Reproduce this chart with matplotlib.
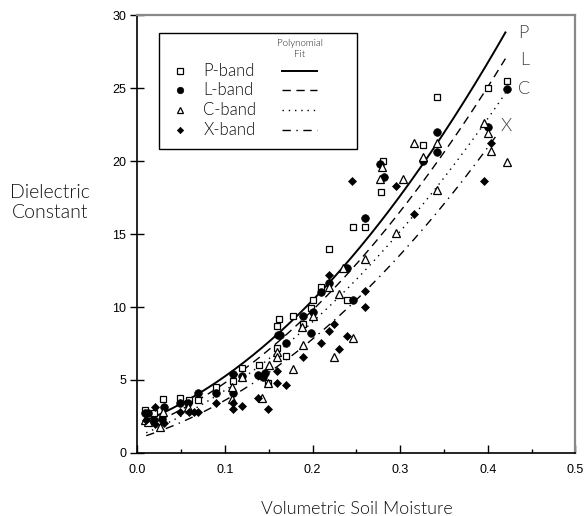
import numpy as np
import matplotlib
matplotlib.use("Agg")
from matplotlib import pyplot as plt
from matplotlib.patches import Rectangle

# puntos medidos (humedad volumetrica, constante dielectrica)
p_x = [0.009, 0.019, 0.029, 0.0485, 0.059, 0.069, 0.09, 0.109, 0.119, 0.139, 0.149, 0.159, 0.159, 0.162,
       0.169, 0.177, 0.189, 0.198, 0.200, 0.209, 0.219, 0.239, 0.246, 0.26, 0.278, 0.28, 0.326, 0.342, 0.40, 0.422]
p_y = [2.95, 2.76, 3.68, 3.8, 3.6, 3.6, 4.55, 4.9, 5.85, 6.0, 4.8, 7.2, 8.7, 9.2,
       6.65, 9.35, 8.85, 9.9, 10.5, 11.4, 14.0, 10.5, 15.5, 15.5, 17.85, 20.0, 21.1, 24.4, 25.0, 25.5]

l_x = [0.009, 0.012, 0.019, 0.028, 0.03, 0.049, 0.058, 0.069, 0.09, 0.109, 0.109, 0.119, 0.138, 0.143, 0.146,
       0.16, 0.163, 0.169, 0.189, 0.198, 0.200, 0.209, 0.219, 0.239, 0.246, 0.26, 0.277, 0.281, 0.326, 0.342,
       0.342, 0.40, 0.422]
l_y = [2.72, 2.72, 2.28, 2.3, 3.17, 3.4, 3.4, 4.13, 4.1, 4.1, 5.4, 5.25, 5.35, 5.2, 5.45,
       8.1, 8.1, 7.55, 9.4, 8.2, 9.65, 11.0, 11.65, 12.65, 10.5, 16.1, 19.8, 18.9, 20.0, 22.0,
       20.6, 22.3, 24.9]

c_x = [0.009, 0.012, 0.026, 0.029, 0.058, 0.108, 0.108, 0.119, 0.142, 0.149, 0.15, 0.159, 0.159, 0.177,
       0.188, 0.189, 0.2, 0.219, 0.224, 0.23, 0.235, 0.246, 0.26, 0.279, 0.277, 0.295, 0.303, 0.316, 0.326,
       0.342, 0.342, 0.396, 0.40, 0.4035, 0.4215]
c_y = [2.26, 2.15, 1.76, 2.8, 3.15, 4.55, 3.7, 5.2, 3.75, 4.8, 6.0, 6.9, 6.55, 5.75,
       8.6, 7.4, 9.35, 11.4, 6.55, 10.9, 12.65, 7.9, 13.3, 19.6, 18.8, 15.05, 18.8, 21.25, 20.3,
       21.2, 18.0, 22.6, 21.95, 20.7, 19.9]

x_x = [0.01, 0.02, 0.02, 0.03, 0.049, 0.059, 0.064, 0.069, 0.09, 0.109, 0.109, 0.119, 0.138, 0.149, 0.159,
       0.159, 0.17, 0.189, 0.209, 0.219, 0.219, 0.224, 0.23, 0.239, 0.245, 0.26, 0.26, 0.295, 0.316, 0.396, 0.4035]
x_y = [2.26, 3.17, 2.0, 2.05, 2.83, 2.83, 2.83, 2.83, 3.4, 3.4, 3.0, 3.2, 3.75, 3.0, 4.8,
       5.6, 4.65, 6.6, 7.55, 8.35, 12.2, 8.85, 7.1, 8.0, 18.6, 11.1, 10.0, 18.3, 16.4, 18.6, 21.2]

fit_x = [0.01, 0.1, 0.2, 0.3, 0.42]
fit_p = [2.3, 5.1, 10.6, 17.6, 28.8]
fit_l = [2.0, 4.5, 9.8, 16.8, 26.9]
fit_c = [1.6, 3.9, 9.0, 15.5, 24.5]
fit_xb = [1.3, 3.3, 8.1, 13.5, 22.6]

bandas = ["P-band", "L-band", "C-band", "X-band"]
letras = ["P", "L", "C", "X"]

thin = dict(family=["Lato", "DejaVu Sans"], fontweight=300)

fig = plt.figure(figsize=(5.87, 5.16), dpi=100)
ax = fig.add_axes([0.2342, 0.1221, 0.7462, 0.8488])

estilos = [
    dict(marker="s", mfc="white", mec="black", ms=5, mew=0.9),
    dict(marker="o", mfc="black", mec="black", ms=5.5, mew=0.5),
    dict(marker="^", mfc="white", mec="black", ms=5.5, mew=0.9),
    dict(marker="D", mfc="black", mec="black", ms=3.8, mew=0.5),
]
lineas = [
    dict(ls="-", lw=1.4),
    dict(ls=(0, (6, 4)), lw=1.0),
    dict(ls=(0, (1, 3.5)), lw=1.0),
    dict(ls=(0, (6, 4, 1, 4)), lw=1.0),
]

datos = [(p_x, p_y), (l_x, l_y), (c_x, c_y), (x_x, x_y)]
for (xs, ys), st in zip(datos, estilos):
    ax.plot(xs, ys, ls="none", **st, zorder=3)

# curvas de ajuste polinomico
ends = [0.42, 0.42, 0.42, 0.41]
lbl_pos = [(0.434, 28.8), (0.437, 26.9), (0.434, 24.9), (0.415, 22.4)]
for fy, ls, xe, lp, let in zip([fit_p, fit_l, fit_c, fit_xb], lineas, ends, lbl_pos, letras):
    coef = np.polyfit(fit_x, fy, 2)
    xx = np.linspace(0.01, xe, 200)
    ax.plot(xx, np.polyval(coef, xx), color="black", **ls, zorder=2)
    ax.text(lp[0], lp[1], let, fontsize=13, color="#444444", va="center", ha="left", **thin)

ax.set_xlim(0, 0.5)
ax.set_ylim(0, 30)
ax.set_xticks([0.0, 0.1, 0.2, 0.3, 0.4, 0.5])
ax.set_xticks([0.05, 0.15, 0.25, 0.35, 0.45], minor=True)
ax.set_yticks([0, 5, 10, 15, 20, 25, 30])
ax.tick_params(axis="x", direction="in", length=6, width=1, labelsize=9, pad=8)
ax.tick_params(axis="x", which="minor", direction="in", length=3, width=1)
ax.tick_params(axis="y", direction="inout", length=10, width=1, labelsize=9, pad=3)
for lab in ax.get_xticklabels() + ax.get_yticklabels():
    lab.set_family("Liberation Sans")
for s in ["top", "right"]:
    ax.spines[s].set_color("#888888")
    ax.spines[s].set_linewidth(1.6)
for s in ["left", "bottom"]:
    ax.spines[s].set_linewidth(1.2)

ax.set_xlabel("Volumetric Soil Moisture", fontsize=13, color="#111111", labelpad=18, **thin)
fig.text(0.085, 0.607, "Dielectric\nConstant", fontsize=14, color="#111111", ha="center", va="center",
         linespacing=1.2, **thin)

# leyenda dibujada a mano
ax.add_patch(Rectangle((0.049, 0.694), 0.452, 0.265, transform=ax.transAxes, fill=False,
                       ec="black", lw=1.0, zorder=4))
ax.text(0.371, 0.936, "Polynomial", transform=ax.transAxes, fontsize=7, ha="center", va="center",
        color="#222222", **thin)
ax.text(0.371, 0.909, "Fit", transform=ax.transAxes, fontsize=7, ha="center", va="center",
        color="#222222", **thin)
filas = [0.872, 0.829, 0.783, 0.737]
for yf, st, ls, nom in zip(filas, estilos, lineas, bandas):
    st2 = dict(st)
    st2["ms"] = st["ms"] * 0.85
    ax.plot([0.097], [yf], transform=ax.transAxes, ls="none", **st2)
    ax.plot([0.329, 0.409], [yf, yf], transform=ax.transAxes, color="black", **ls)
    ax.text(0.150, yf, nom, transform=ax.transAxes, fontsize=12, va="center", ha="left",
            color="#111111", **thin)

fig.savefig("out.png", dpi=100)
